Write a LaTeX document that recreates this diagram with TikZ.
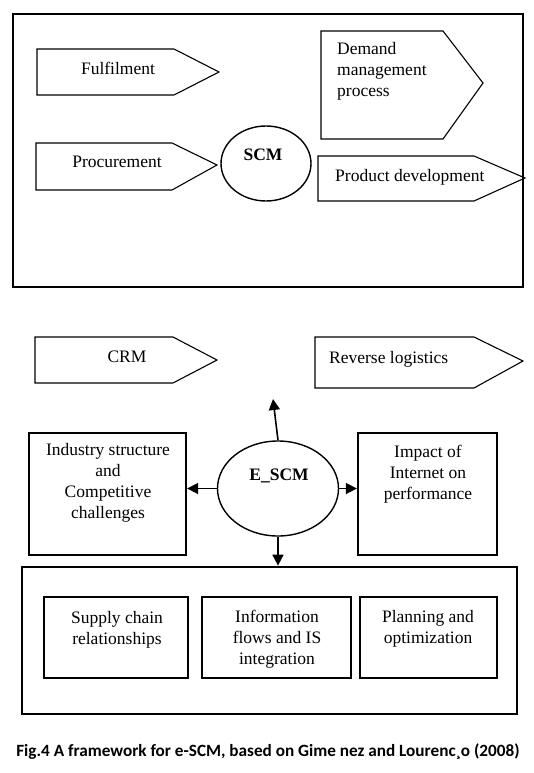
\documentclass[tikz,border=0pt]{standalone}
\usepackage{fontspec}
\setmainfont{Liberation Serif}
\newfontfamily\capfont{Carlito}
\usetikzlibrary{arrows.meta,shapes.geometric}

\begin{document}
\begin{tikzpicture}[x=1pt,y=-1pt,
  frame/.style={draw, line width=2.6pt},
  arrowshape/.style={draw, line width=1.1pt, line join=miter},
  box/.style={draw, line width=2.3pt, inner sep=0pt},
  oval/.style={draw, ellipse, line width=1.4pt, inner sep=0pt},
  lbl/.style={font=\fontsize{17.5}{21}\selectfont, inner sep=0pt, align=center},
  conn/.style={-{Triangle[length=11pt,width=11pt]}, line width=1.6pt}]

\useasboundingbox (0,0) rectangle (534,773);
\fill[white] (0,0) rectangle (534,773);

% ---------- top SCM frame ----------
\draw[frame] (13,14) rectangle (523,287);

\draw[arrowshape] (37,49) -- (174,49) -- (219,72) -- (174,95) -- (37,95) -- cycle;
\node[lbl] (fulf) at (118,68) {Fulfilment};

\draw[arrowshape] (36,143) -- (172,143) -- (217,165) -- (172,190) -- (36,190) -- cycle;
\node[lbl] (proc) at (117,162) {Procurement};

\draw[arrowshape] (321,31) -- (443,31) -- (483,83) -- (443,139) -- (321,139) -- cycle;
\node[lbl, align=left, anchor=west] (dem) at (337,71) {Demand\\management\\process};

\draw[arrowshape] (318,156) -- (474,156) -- (525,178) -- (474,201) -- (318,201) -- cycle;
\node[lbl, anchor=west] (prod) at (335,177) {Product development};

\node[oval, minimum width=90pt, minimum height=75pt] (scm) at (266,163.5) {};
\node[lbl, font=\fontsize{17.5}{21}\selectfont\bfseries] (scmlbl) at (263,155) {SCM};

% ---------- e-SCM part ----------
\draw[arrowshape] (35,337) -- (173,337) -- (217,360) -- (173,383) -- (35,383) -- cycle;
\node[lbl] (crm) at (127,357) {CRM};

\draw[arrowshape] (315,337) -- (474,337) -- (523,361) -- (474,388) -- (315,388) -- cycle;
\node[lbl, anchor=west] (rev) at (329,359) {Reverse logistics};

\node[box, minimum width=157pt, minimum height=122pt] (indbox) at (107.5,494) {};
\node[lbl] (ind) at (108,483) {Industry structure\\and\\Competitive\\challenges};

\node[box, minimum width=139pt, minimum height=122pt] (impbox) at (427.5,494) {};
\node[lbl] (imp) at (428,474) {Impact of\\Internet on\\performance};

\node[oval, minimum width=121pt, minimum height=95pt] (escm) at (278,488.5) {};
\node[lbl, font=\fontsize{17.5}{21}\selectfont\bfseries] (escmlbl) at (279,476) {E\_SCM};

\node[box, line width=2.7pt, minimum width=495pt, minimum height=147pt] (bframe) at (269.5,640.5) {};

\node[box, minimum width=144pt, minimum height=81pt] (scbox) at (116,637.5) {};
\node[lbl] (sc) at (117,630) {Supply chain\\relationships};

\node[box, minimum width=149pt, minimum height=81pt] (ifbox) at (276.5,637.5) {};
\node[lbl] (inf) at (277,639) {Information\\flows and IS\\integration};

\node[box, minimum width=137pt, minimum height=81pt] (plbox) at (428.5,637.5) {};
\node[lbl] (plan) at (428,629) {Planning and\\optimization};

% connectors
\coordinate (upend) at (273,399);
\draw[conn] (escm.north) -- (upend);
\draw[conn] (escm.west) -- (escm.west -| indbox.east);
\draw[conn] (escm.east) -- (escm.east -| impbox.west);
\draw[conn] (escm.south) -- (escm.south |- bframe.north);

% caption
\node[inner sep=0pt, font=\capfont\bfseries\fontsize{17.2}{20}\selectfont] (cap) at (268,752)
  {Fig.4 A framework for e-SCM, based on Gime nez and Lourenc¸o (2008)};
\end{tikzpicture}
\end{document}
